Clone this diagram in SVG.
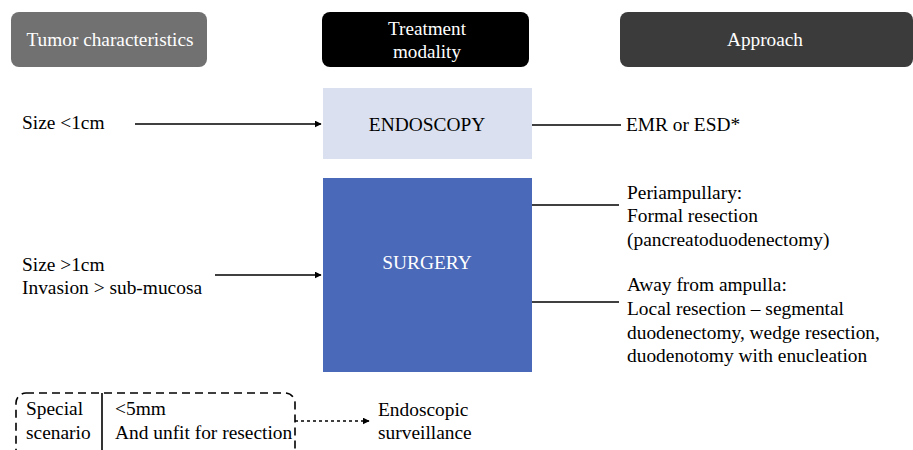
<svg xmlns="http://www.w3.org/2000/svg" width="913" height="450" viewBox="0 0 913 450">
<defs>
<marker id="ah" viewBox="0 0 10 10" refX="9" refY="5" markerWidth="7" markerHeight="7" orient="auto" markerUnits="userSpaceOnUse"><path d="M0,0 L10,5 L0,10 z" fill="#000"/></marker>
</defs>
<rect width="913" height="450" fill="#fff"/>
<g font-family="'Liberation Serif', serif" font-size="19" fill="#fff" text-anchor="middle">
<g id="hdr-tumor"><rect x="11" y="12" width="196" height="55" rx="8" fill="#717171"/><text x="110" y="46" textLength="167" lengthAdjust="spacingAndGlyphs">Tumor characteristics</text></g>
<g id="hdr-modality"><rect x="322" y="12" width="207" height="55" rx="8" fill="#000"/><text x="427" y="35" textLength="78" lengthAdjust="spacingAndGlyphs">Treatment</text><text x="427" y="58" textLength="68" lengthAdjust="spacingAndGlyphs">modality</text></g>
<g id="hdr-approach"><rect x="620" y="12" width="293" height="55" rx="8" fill="#3b3b3b"/><text x="765" y="46" textLength="76" lengthAdjust="spacingAndGlyphs">Approach</text></g>
</g>
<g font-family="'Liberation Serif', serif" font-size="19.4" fill="#000">
<g id="endoscopy"><rect x="323" y="88" width="209" height="71" fill="#dae0ef"/><text x="427" y="131" text-anchor="middle">ENDOSCOPY</text></g>
<g id="surgery"><rect x="323" y="178" width="209" height="194" fill="#4a69b9"/><text x="427" y="269" text-anchor="middle" fill="#fff">SURGERY</text></g>
<g id="size1"><text x="22" y="129">Size &lt;1cm</text></g>
<g id="size2"><text x="22" y="271">Size &gt;1cm</text><text x="22" y="294">Invasion &gt; sub-mucosa</text></g>
<g id="emr"><text x="626" y="131">EMR or ESD*</text></g>
<g id="periamp"><text x="627" y="199">Periampullary:</text><text x="627" y="222">Formal resection</text><text x="627" y="246">(pancreatoduodenectomy)</text></g>
<g id="away"><text x="627" y="291">Away from ampulla:</text><text x="627" y="315">Local resection – segmental</text><text x="627" y="339">duodenectomy, wedge resection,</text><text x="627" y="362">duodenotomy with enucleation</text></g>
<g id="special"><rect x="16" y="393" width="279" height="70" rx="10" fill="none" stroke="#000" stroke-width="1.6" stroke-dasharray="8,5"/><line x1="102" y1="393" x2="102" y2="455" stroke="#000" stroke-width="1.6"/><text x="26" y="415">Special</text><text x="26" y="439">scenario</text><text x="115" y="415">&lt;5mm</text><text x="115" y="439">And unfit for resection</text></g>
<g id="surveillance"><text x="378" y="416">Endoscopic</text><text x="378" y="439">surveillance</text></g>
</g>
<g id="connectors" stroke="#000" stroke-width="1.6" fill="none">
<line x1="135" y1="124" x2="321" y2="124" marker-end="url(#ah)"/>
<line x1="215" y1="275" x2="321" y2="275" marker-end="url(#ah)"/>
<line x1="532" y1="125" x2="621" y2="125"/>
<line x1="532" y1="205" x2="619" y2="205"/>
<line x1="532" y1="302" x2="619" y2="302"/>
<line x1="295" y1="421" x2="369" y2="421" stroke-dasharray="3,3" marker-end="url(#ah)"/>
</g>
</svg>
